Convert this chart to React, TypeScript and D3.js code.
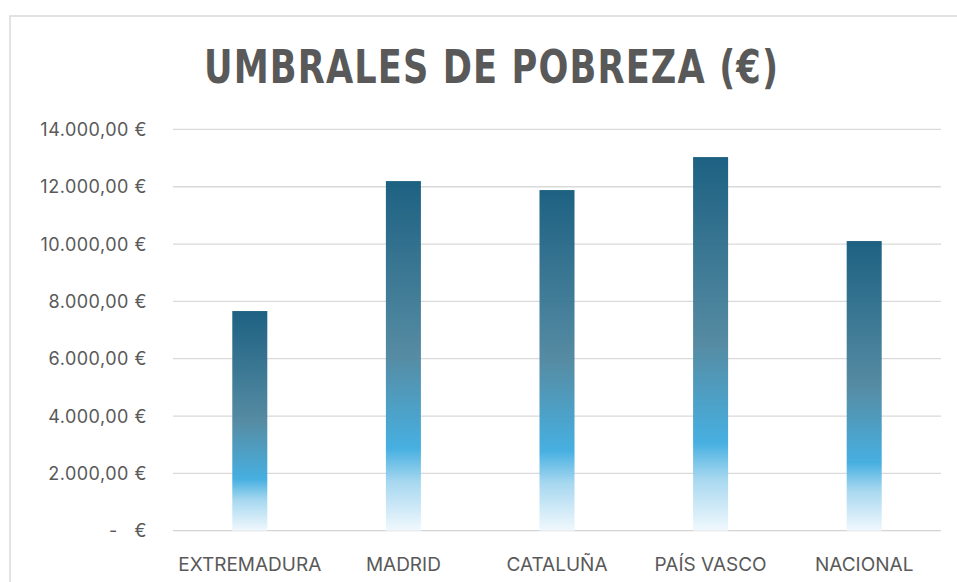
import * as d3 from 'd3';

const categories = ['EXTREMADURA', 'MADRID', 'CATALUÑA', 'PAÍS VASCO', 'NACIONAL'];
const umbrales = [7663, 12197, 11884, 13035, 10105];
const yTicks = [0, 2000, 4000, 6000, 8000, 10000, 12000, 14000];
const yTickLabels = ['-   €', '2.000,00 €', '4.000,00 €', '6.000,00 €', '8.000,00 €', '10.000,00 €', '12.000,00 €', '14.000,00 €'];
const title = 'UMBRALES DE POBREZA (€)';

const W = 957;
const H = 582;
const plot = { left: 173, right: 941, top: 129.4, bottom: 530.7 };

// title is drawn with narrowed glyphs and extra spacing, like the condensed original
const titleSqueeze = 0.85;

const App = () => {
  const x = d3
    .scaleBand<string>()
    .domain(categories)
    .range([plot.left, plot.right])
    .paddingInner(0.772)
    .paddingOuter(0.386);
  const y = d3.scaleLinear().domain([0, 14000]).range([plot.bottom, plot.top]);

  const labelFont = 'Inter, "Open Sans", sans-serif';

  return (
    <svg
      width={W}
      height={H}
      style={{ position: 'absolute', left: 0, top: 0, background: '#ffffff' }}
    >
      <defs>
        <linearGradient id="barGrad" x1="0" y1="0" x2="0" y2="1">
          <stop offset="0" stopColor="#165c7e" />
          <stop offset="0.5" stopColor="#5088a0" />
          <stop offset="0.765" stopColor="#41ade0" />
          <stop offset="0.86" stopColor="#a3d6ef" />
          <stop offset="1" stopColor="#f0f8fd" />
        </linearGradient>
      </defs>

      {/* chart area border */}
      <rect x={10} y={16} width={W} height={H} fill="none" stroke="#d9d9d9" strokeWidth={1.5} />

      <g transform={`translate(204,83) scale(${titleSqueeze},1)`}>
        <text
          x={0}
          y={0}
          textLength={574 / titleSqueeze}
          lengthAdjust="spacing"
          fontFamily='"DejaVu Sans Condensed", "Liberation Sans", sans-serif'
          fontWeight="bold"
          fontSize={46}
          fill="#595959"
        >
          {title}
        </text>
      </g>

      {/* gridlines */}
      {yTicks.map((t) => (
        <line
          key={t}
          x1={plot.left}
          x2={plot.right}
          y1={y(t)}
          y2={y(t)}
          stroke={t === 0 ? '#d4d4d4' : '#d9d9d9'}
          strokeWidth={1.3}
        />
      ))}

      {/* y tick labels */}
      {yTicks.map((t, i) => (
        <text
          key={t}
          x={147}
          y={y(t)}
          textAnchor="end"
          dominantBaseline="central"
          fontFamily={labelFont}
          fontSize={18}
          letterSpacing={0.5}
          fill="#595959"
          style={{ whiteSpace: 'pre' }}
        >
          {yTickLabels[i]}
        </text>
      ))}

      {/* bars */}
      {categories.map((c, i) => (
        <rect
          key={c}
          x={x(c)}
          y={y(umbrales[i])}
          width={x.bandwidth()}
          height={y(0) - y(umbrales[i])}
          fill="url(#barGrad)"
          fillOpacity={0.97}
        />
      ))}

      {/* category labels */}
      {categories.map((c) => (
        <text
          key={c}
          x={(x(c) ?? 0) + x.bandwidth() / 2}
          y={571}
          textAnchor="middle"
          fontFamily={labelFont}
          fontSize={19}
          fill="#595959"
        >
          {c}
        </text>
      ))}
    </svg>
  );
};

export default App;
